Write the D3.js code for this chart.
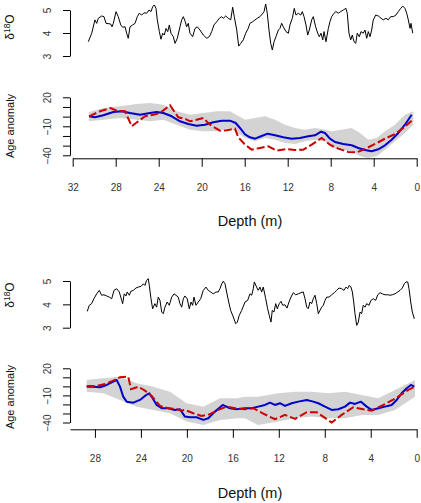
<!DOCTYPE html>
<html>
<head>
<meta charset="utf-8">
<script src="https://cdn.jsdelivr.net/npm/d3@7"></script>
<style>
body { margin: 0; background: #fff; }
svg { display: block; font-family: "Liberation Sans", Arial, sans-serif; }
</style>
</head>
<body>
<div id="chart"></div>
<script>
// ---- tick values ----
var d18Ticks = [3, 4, 5];
var ageTicks = [-40, -30, -20, -10, 0, 10, 20];
var ageLabels = [20, -10, -40];
var depthTicks1 = [32, 28, 24, 20, 16, 12, 8, 4, 0];
var depthTicks2 = [28, 24, 20, 16, 12, 8, 4, 0];

// ---- core 1: d18O record ----
var core1Depth = [30.55,30.23,29.93,29.77,29.62,29.30,29.09,28.90,28.47,28.34,
  28.22,27.97,27.76,27.53,27.35,27.13,26.98,26.83,26.67,26.42,
  26.20,25.99,25.80,25.58,25.37,25.12,24.90,24.72,24.56,24.41,
  24.25,24.13,23.94,23.79,23.63,23.48,23.32,23.16,23.01,22.86,
  22.64,22.48,22.27,22.02,21.86,21.71,21.53,21.40,21.25,21.09,
  20.84,20.62,20.41,20.16,19.85,19.53,19.29,19.07,18.86,18.60,
  18.36,18.14,17.99,17.77,17.53,17.30,17.12,16.97,16.74,16.56,
  16.37,16.13,15.91,15.67,15.51,15.26,15.04,14.83,14.58,14.36,
  14.20,14.05,13.90,13.74,13.58,13.43,13.27,13.09,12.87,12.72,
  12.56,12.41,12.16,11.94,11.79,11.57,11.39,11.23,11.01,10.79,
  10.64,10.48,10.30,10.14,9.99,9.77,9.62,9.40,9.21,9.06,
  8.90,8.74,8.62,8.44,8.22,8.07,7.91,7.69,7.51,7.29,
  7.07,6.83,6.58,6.46,6.30,6.14,5.99,5.83,5.67,5.53,
  5.34,5.18,4.97,4.81,4.65,4.50,4.34,4.19,4.04,3.81,
  3.57,3.32,3.11,2.86,2.64,2.42,2.18,1.93,1.71,1.49,
  1.30,1.09,0.93,0.78,0.62,0.53,0.37];
var core1D18O = [3.62,3.99,4.57,4.42,4.64,4.74,4.71,4.42,4.39,4.27,
  4.42,4.93,4.71,4.35,4.25,4.27,3.99,3.77,4.27,4.35,
  4.42,4.71,4.86,4.78,4.88,4.86,5.00,4.93,5.14,5.22,
  5.07,4.57,4.06,3.73,3.99,3.91,4.20,4.06,4.35,3.99,
  3.84,3.55,3.77,4.27,4.57,4.71,4.49,4.27,4.42,3.99,
  3.84,4.20,4.27,4.13,3.91,3.77,3.84,4.06,4.35,4.49,
  4.64,4.71,4.64,4.74,4.64,4.57,5.12,4.71,4.13,3.43,
  3.55,3.70,3.99,4.20,4.42,4.49,4.57,4.64,4.71,4.83,
  4.93,5.26,4.86,4.13,3.55,3.26,3.62,3.84,4.13,4.20,
  4.42,4.27,4.06,3.99,4.35,4.64,5.07,4.78,4.86,4.78,
  4.93,4.71,4.35,3.91,4.13,4.57,4.71,4.27,3.99,3.84,
  3.99,3.70,4.06,3.62,4.20,4.49,4.71,4.86,4.93,4.86,
  4.93,5.00,5.07,4.86,3.99,3.70,3.91,3.62,3.55,3.99,
  3.84,4.06,3.99,4.13,3.77,4.06,3.84,4.13,4.57,4.78,
  4.74,4.64,4.57,4.64,4.57,4.71,4.71,4.78,4.93,5.07,
  5.17,5.07,4.86,4.57,4.20,4.42,3.99];

// ---- core 1: age anomaly ----
var core1BlueDepth = [30.48,29.93,29.15,28.22,27.44,26.67,25.74,24.81,24.19,23.57,
  22.79,22.02,21.25,20.47,19.69,18.92,18.14,17.37,16.84,16.44,
  15.97,15.51,15.04,14.48,13.86,13.18,12.41,11.63,10.86,10.08,
  9.46,8.90,8.53,8.07,7.60,6.83,6.05,5.43,4.81,4.19,
  3.57,2.95,2.33,1.71,1.09,0.47];
var core1BlueAge = [0.35,-0.69,1.39,4.80,5.52,3.77,2.01,3.77,4.80,3.77,
  0.35,-4.82,-7.61,-9.37,-8.33,-5.85,-4.20,-4.20,-6.57,-11.74,
  -18.26,-21.36,-22.81,-20.33,-17.64,-19.29,-21.36,-22.81,-22.08,-20.33,
  -19.29,-15.57,-16.91,-22.81,-26.22,-28.29,-29.63,-32.42,-34.49,-35.84,
  -33.77,-29.63,-23.84,-16.91,-8.33,2.01];
var core1RedDepth = [30.48,29.46,28.47,27.91,27.13,26.51,25.90,25.27,24.50,23.88,
  22.95,22.18,21.56,21.09,20.47,19.85,19.23,18.30,17.68,16.90,
  16.60,15.97,15.35,14.58,13.80,13.02,12.09,11.32,10.55,9.77,
  8.84,8.07,7.29,6.36,5.58,4.81,3.88,2.95,2.02,1.25,0.47];
var core1RedAge = [0.35,5.52,8.94,6.14,5.52,-9.99,-4.82,0.35,2.01,3.77,
  11.73,-0.69,-2.13,-4.82,-3.16,-1.40,-8.33,-14.54,-14.12,-12.47,
  -21.36,-29.01,-34.18,-32.42,-30.67,-35.22,-33.46,-34.49,-34.18,-29.01,
  -22.08,-29.01,-33.15,-36.56,-36.87,-33.46,-28.29,-22.81,-17.95,-11.74,-4.20];
var core1BandDepth = [30.48,29.15,27.60,26.05,24.81,23.57,22.33,21.09,19.85,18.60,
  17.37,15.97,15.04,14.11,13.18,12.25,11.32,10.39,9.46,8.53,
  7.91,6.98,6.05,5.27,4.50,3.72,2.95,2.02,1.09,0.32];
var core1BandHi = [4.80,8.94,10.69,13.07,14.11,12.35,5.52,2.01,3.77,5.52,
  5.52,-3.16,-1.40,0.35,-3.16,-8.33,-11.74,-13.50,-11.74,-13.50,
  -15.16,-13.50,-11.74,-16.91,-23.84,-22.08,-15.16,-8.33,2.01,5.52];
var core1BandLo = [-4.82,-3.16,-1.40,-3.16,-4.82,-3.16,-8.33,-13.50,-15.16,-15.16,
  -11.74,-22.08,-25.50,-22.08,-23.84,-27.25,-28.29,-25.50,-23.84,-25.50,
  -32.42,-34.18,-35.84,-41.01,-42.76,-41.01,-34.18,-25.50,-16.91,-8.33];

// ---- core 2: d18O record ----
var core2Depth = [28.67,28.49,28.29,28.09,27.85,27.62,27.42,27.22,26.98,26.75,
  26.54,26.34,26.11,25.88,25.67,25.59,25.45,25.30,25.19,25.01,
  24.87,24.66,24.43,24.23,23.99,23.79,23.65,23.50,23.36,23.27,
  23.12,22.98,22.78,22.63,22.49,22.34,22.19,22.05,21.91,21.71,
  21.53,21.32,21.12,20.95,20.75,20.60,20.45,20.31,20.17,19.97,
  19.79,19.64,19.50,19.38,19.21,19.01,18.80,18.57,18.34,18.14,
  17.93,17.70,17.47,17.27,17.12,16.97,16.83,16.68,16.54,16.36,
  16.19,15.96,15.75,15.61,15.44,15.23,14.94,14.71,14.51,14.36,
  14.22,14.13,13.93,13.79,13.64,13.49,13.35,13.14,12.97,12.83,
  12.68,12.57,12.42,12.27,12.13,11.96,11.81,11.66,11.46,11.29,
  11.11,10.94,10.74,10.53,10.30,10.07,9.87,9.72,9.57,9.43,
  9.29,9.14,9.00,8.85,8.70,8.56,8.42,8.27,8.13,7.98,
  7.83,7.63,7.40,7.17,6.96,6.76,6.53,6.33,6.15,6.01,
  5.87,5.72,5.60,5.48,5.37,5.22,5.08,4.93,4.79,4.65,
  4.50,4.35,4.15,3.98,3.78,3.57,3.39,3.19,2.99,2.76,
  2.52,2.32,2.12,1.89,1.65,1.45,1.25,1.08,0.93,0.78,
  0.67,0.52,0.38,0.21];
var core2D18O = [3.70,3.96,4.03,4.24,4.45,4.60,4.39,4.41,4.36,4.31,
  4.24,4.60,4.67,4.53,4.17,4.03,4.45,4.36,4.53,4.39,
  4.56,4.60,4.70,4.74,4.77,4.88,4.81,5.03,5.10,4.81,
  4.24,3.81,4.03,3.88,4.31,4.17,3.67,3.60,3.88,4.10,
  3.96,4.31,4.45,4.39,4.31,4.03,3.88,4.24,4.36,4.24,
  3.81,4.10,3.96,4.31,3.96,4.10,4.24,4.60,4.74,4.60,
  4.53,4.45,4.53,4.53,4.67,4.88,4.99,4.88,4.53,4.10,
  3.74,3.46,3.17,3.24,3.53,3.74,4.10,4.17,4.45,4.39,
  4.67,4.96,4.74,4.60,4.74,4.53,4.74,4.24,3.81,3.53,
  3.24,3.74,3.67,4.03,3.81,4.03,4.13,3.96,3.98,3.84,
  4.10,4.31,4.50,4.41,4.45,4.50,4.53,4.24,3.88,3.81,
  4.10,4.03,4.24,4.39,4.03,3.60,3.74,3.88,3.96,4.17,
  4.31,4.31,4.41,4.50,4.60,4.70,4.67,4.60,4.74,4.67,
  4.81,4.74,4.53,4.10,3.60,3.10,3.24,3.67,3.60,3.96,
  3.88,4.03,3.96,4.17,4.24,4.17,4.41,4.50,4.45,4.41,
  4.41,4.39,4.41,4.45,4.53,4.60,4.70,4.88,4.96,4.96,
  4.67,4.10,3.67,3.38];

// ---- core 2: age anomaly ----
var core2BlueDepth = [28.72,28.15,27.56,26.98,26.41,26.11,25.82,25.54,25.24,24.66,
  24.08,23.65,23.27,22.98,22.63,22.19,21.62,21.04,20.60,20.17,
  19.73,19.15,18.57,18.14,17.55,16.88,16.25,15.67,14.94,14.36,
  13.79,13.20,12.77,12.33,11.90,11.46,10.88,10.30,9.57,9.00,
  8.56,7.98,7.40,6.82,6.24,5.80,5.37,4.85,4.35,3.92,
  3.34,2.76,2.18,1.74,1.31,0.87,0.50,0.21];
var core2BlueAge = [-0.33,-0.33,-0.99,1.55,5.19,7.07,-0.33,-11.38,-16.91,-18.01,
  -15.03,-10.61,-7.63,-13.15,-20.55,-24.20,-24.20,-26.08,-25.31,-33.48,
  -34.15,-34.15,-37.13,-35.25,-27.96,-20.55,-24.20,-25.31,-24.20,-24.20,
  -22.43,-20.55,-18.01,-20.55,-18.68,-21.66,-18.68,-16.91,-15.03,-16.91,
  -18.68,-22.43,-26.08,-25.31,-22.43,-18.01,-19.45,-16.91,-22.43,-26.08,
  -24.20,-22.43,-20.55,-15.03,-7.63,-2.10,1.55,-0.33];
var core2RedDepth = [28.72,27.85,27.13,26.41,25.82,25.10,24.86,24.23,23.65,23.06,
  22.34,21.62,20.89,20.45,20.17,19.44,18.71,17.99,17.27,16.54,
  15.81,14.94,14.22,13.35,12.33,11.46,10.59,9.57,8.70,7.40,
  6.53,5.52,4.65,3.92,2.76,1.60,0.73,0.15];
var core2RedAge = [0.44,0.44,2.65,6.30,10.06,10.72,-3.21,-0.33,-4.75,-10.61,
  -21.66,-24.20,-25.31,-26.85,-26.08,-29.73,-32.71,-30.83,-26.08,-22.43,
  -24.20,-25.31,-24.20,-30.17,-36.36,-31.60,-36.02,-28.62,-28.62,-40.11,
  -31.60,-23.10,-25.31,-26.85,-19.78,-11.38,-3.98,-0.33];
var core2BandDepth = [28.72,27.27,25.82,24.37,22.92,21.47,20.02,18.57,17.12,15.67,
  14.94,13.81,12.05,10.59,9.14,7.69,6.24,4.79,3.34,1.89,0.15];
var core2BandHi = [7.07,8.95,10.72,3.43,-0.33,-5.86,-18.68,-22.43,-13.15,-13.15,
  -11.38,-11.38,-7.63,-5.86,-5.86,-7.63,-5.86,-9.50,-13.15,-3.98,7.07];
var core2BandLo = [-5.86,-7.63,-15.03,-22.43,-26.08,-29.73,-39.01,-42.65,-37.13,-35.25,
  -35.25,-42.65,-39.01,-35.25,-33.48,-35.25,-35.25,-31.60,-31.60,-26.08,-11.38];

var width = 421, height = 503;
var blue = "#0000cd", red = "#cd0000", band = "#d3d3d3";

var svg = d3.select("#chart").append("svg")
    .attr("width", width)
    .attr("height", height);

function pairs(a, b) {
  return d3.zip(a, b);
}

// rotate the y-axis labels so they run along the axis, like R does
function rotateLabels(g) {
  g.select(".domain").attr("stroke", "#000");
  g.selectAll(".tick line").attr("stroke", "#000");
  g.selectAll(".tick text")
    .attr("x", 0).attr("y", 0)
    .attr("dy", "0.35em")
    .attr("text-anchor", "middle")
    .attr("fill", "#333")
    .attr("transform", "translate(-22.5,0) rotate(-90)");
}

function yTitle(parts, x, y, size) {
  var t = svg.append("text")
      .attr("transform", "translate(" + x + "," + y + ") rotate(-90)")
      .attr("text-anchor", "middle")
      .attr("dy", "0.35em")
      .attr("font-size", size)
      .attr("fill", "#111");
  parts.forEach(function(p) {
    var s = t.append("tspan").text(p.text);
    if (p.sup) s.attr("font-size", size * 0.7).attr("dy", -size * 0.38);
    if (p.down) s.attr("dy", size * 0.38);
  });
}

function drawCore(c) {
  var x = d3.scaleLinear().domain(c.xDomain).range(c.xRange);
  var yD = d3.scaleLinear().domain([3, 5]).range(c.d18Range);
  var yA = d3.scaleLinear().domain([-40, 20]).range(c.ageRange);

  // d18O record
  var line18 = d3.line()
      .x(function(d) { return x(d[0]); })
      .y(function(d) { return yD(d[1]); });
  svg.append("path")
      .datum(pairs(c.depth, c.d18))
      .attr("fill", "none")
      .attr("stroke", "#000")
      .attr("stroke-width", 1)
      .attr("stroke-linejoin", "round")
      .attr("d", line18);

  svg.append("g")
      .attr("transform", "translate(70,0)")
      .attr("font-size", 9)
      .call(d3.axisLeft(yD).tickValues(d18Ticks).tickSize(7).tickSizeOuter(0).tickFormat(d3.format("d")))
      .call(rotateLabels);

  // uncertainty band
  var area = d3.area()
      .x(function(d) { return x(d[0]); })
      .y0(function(d) { return yA(d[2]); })
      .y1(function(d) { return yA(d[1]); });
  svg.append("path")
      .datum(d3.zip(c.bandDepth, c.bandHi, c.bandLo))
      .attr("fill", band)
      .attr("d", area);

  var lineA = d3.line()
      .x(function(d) { return x(d[0]); })
      .y(function(d) { return yA(d[1]); });

  svg.append("path")
      .datum(pairs(c.blueDepth, c.blueAge))
      .attr("fill", "none")
      .attr("stroke", blue)
      .attr("stroke-width", 2)
      .attr("stroke-linejoin", "round")
      .attr("d", lineA);

  svg.append("path")
      .datum(pairs(c.redDepth, c.redAge))
      .attr("fill", "none")
      .attr("stroke", red)
      .attr("stroke-width", 2)
      .attr("stroke-dasharray", "8,3")
      .attr("d", lineA);

  svg.append("g")
      .attr("transform", "translate(70,0)")
      .attr("font-size", 9)
      .call(d3.axisLeft(yA).tickValues(ageTicks).tickSize(7).tickSizeOuter(0)
        .tickFormat(function(d) { return ageLabels.indexOf(d) >= 0 ? d3.format("d")(d) : ""; }))
      .call(rotateLabels);

  // depth axis
  var gx = svg.append("g")
      .attr("transform", "translate(0," + c.axisY + ")")
      .attr("font-size", 9)
      .call(d3.axisBottom(x).tickValues(c.ticks).tickSize(8.5).tickSizeOuter(0).tickPadding(17.5).tickFormat(d3.format("d")));
  gx.select(".domain").attr("stroke", "#000");
  gx.selectAll(".tick line").attr("stroke", "#000");
  gx.selectAll(".tick text").attr("fill", "#333");

  svg.append("text")
      .attr("x", 250)
      .attr("y", c.titleY)
      .attr("dy", "0.35em")
      .attr("text-anchor", "middle")
      .attr("font-size", 14.5)
      .attr("fill", "#111")
      .text("Depth (m)");

  yTitle([{text: "δ"}, {text: "18", sup: true}, {text: "O", down: true}], 10, c.d18TitleY, 12);
  yTitle([{text: "Age anomaly"}], 10, c.ageTitleY, 11);
}

drawCore({
  xDomain: [32, 0], xRange: [72.7, 416.7], ticks: depthTicks1,
  d18Range: [56, 10], ageRange: [155.3, 97.3],
  axisY: 158.3, titleY: 221, d18TitleY: 27, ageTitleY: 126,
  depth: core1Depth, d18: core1D18O,
  blueDepth: core1BlueDepth, blueAge: core1BlueAge,
  redDepth: core1RedDepth, redAge: core1RedAge,
  bandDepth: core1BandDepth, bandHi: core1BandHi, bandLo: core1BandLo
});

drawCore({
  xDomain: [30.17, 0], xRange: [70, 416.7], ticks: depthTicks2,
  d18Range: [327.7, 281], ageRange: [422.5, 368.3],
  axisY: 429.3, titleY: 493, d18TitleY: 295, ageTitleY: 397,
  depth: core2Depth, d18: core2D18O,
  blueDepth: core2BlueDepth, blueAge: core2BlueAge,
  redDepth: core2RedDepth, redAge: core2RedAge,
  bandDepth: core2BandDepth, bandHi: core2BandHi, bandLo: core2BandLo
});
</script>
</body>
</html>
